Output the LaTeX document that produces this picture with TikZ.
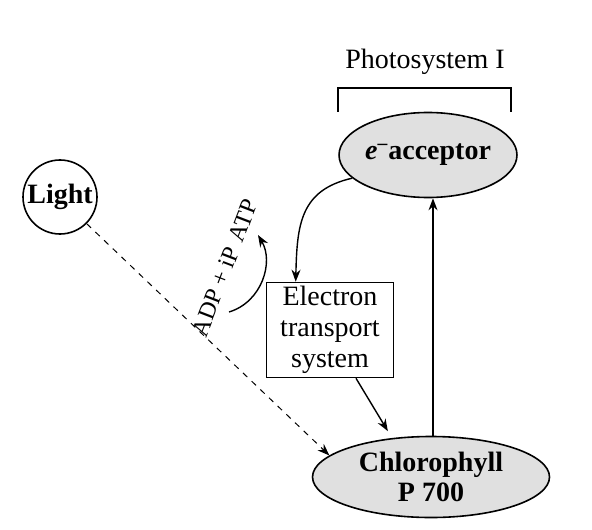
\documentclass[tikz,border=0pt]{standalone}
\usepackage{fontspec}
\setmainfont{Liberation Serif}
\usetikzlibrary{shapes.geometric}
\usetikzlibrary{arrows.meta}

\begin{document}
\begin{tikzpicture}[x = .5pt, y = -.5pt]
				    \tikzstyle{edge}=[draw,line width = .7pt,-{Stealth[length=6pt,width=4.5pt]},black]
				    \tikzstyle{pigment}=[draw,ellipse,line width = .8pt,fill=black!12,font=\fontsize{14}{15}\selectfont\bfseries,align=center,inner sep=0pt]
				    \tikzstyle{label}=[font=\fontsize{14}{15.5}\selectfont,align=center]
				    \useasboundingbox (0,0) rectangle (592,529);
				    \node[draw,circle,line width = .8pt,minimum size=37pt,inner sep=0pt,font=\fontsize{14}{15}\selectfont\bfseries] (light) at (60,197) {Light};
				    \node[label] (psone) at (425,62) {Photosystem I};
				    \draw[line width = .8pt] (338,112) -- (338,88) -- (511,88) -- (511,112);
				    \node[pigment,minimum width=76pt,minimum height=42.5pt] (acceptor) at (428,155) {\textit{e}\textsuperscript{--}acceptor};
				    \node[pigment,minimum width=118.5pt,minimum height=40.5pt] (chloro) at (431,477) {Chlorophyll\\P 700};
				    \node[label,draw,line width = .8pt,minimum width=63.5pt,minimum height=47.5pt,inner sep=1pt] (ets) at (330,330) {Electron\\transport\\system};
				    \node[label,font=\fontsize{12}{13}\selectfont,rotate=69,inner sep=1pt] (adp) at (225,268) {ADP + iP\,\,ATP};
				    \coordinate (adpin) at (229,312);
				    \coordinate (adpout) at (258,235);
				    \draw[edge] (chloro.north -| 433,0) -- (acceptor.south -| 433,0);
				    \draw[edge] (acceptor.197) .. controls (300,190) and (297,225) .. ([xshift=15pt]ets.north west);
				    \draw[edge] (adpin) .. controls (262,302) and (274,262) .. (adpout);
				    \draw[edge,shorten >=4pt] ([xshift=13pt]ets.south) -- (chloro.135);
				    \draw[edge,dashed,line width = .5pt] (light.-45) -- (chloro.168);
				\end{tikzpicture}
\end{document}
